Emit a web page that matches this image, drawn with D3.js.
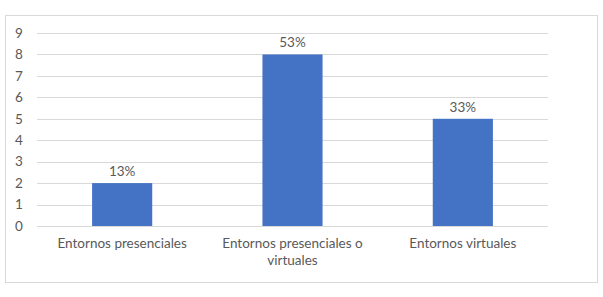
<!DOCTYPE html>
<html>
<head>
<meta charset="utf-8">
<script src="https://cdn.jsdelivr.net/npm/d3@7"></script>
<style>
  body { margin: 0; background: #fff; }
  svg text { font-family: Lato, "Open Sans", sans-serif; fill: #595959; }
</style>
</head>
<body>
<div id="chart"></div>
<script>
// chart data
var categories = ["Entornos presenciales", "Entornos presenciales o virtuales", "Entornos virtuales"];
var values = [2, 8, 5];
var pct_labels = ["13%", "53%", "33%"];
var y_ticks = [0, 1, 2, 3, 4, 5, 6, 7, 8, 9];

var W = 603, H = 297;
var margin = { top: 33, left: 37, right: 55, bottom: 71 };
var width = W - margin.left - margin.right,
  height = H - margin.top - margin.bottom;

var svg = d3.select("#chart").append("svg")
  .attr("width", W)
  .attr("height", H);

// outer border
svg.append("rect")
  .attr("x", 5.5).attr("y", 15.5)
  .attr("width", 592).attr("height", 267)
  .attr("fill", "#fff")
  .attr("stroke", "#d9d9d9");

var g = svg.append("g")
  .attr("transform", "translate(" + margin.left + "," + margin.top + ")");

var x = d3.scaleBand().domain(categories).range([0, width]).paddingInner(0.647).paddingOuter(0.3235);
var y = d3.scaleLinear().domain([0, 9]).range([height, 0]);

// gridlines
g.selectAll(".grid").data(y_ticks).enter().append("line")
  .attr("x1", 0).attr("x2", width)
  .attr("y1", function (d) { return Math.round(y(d)) + 0.5; })
  .attr("y2", function (d) { return Math.round(y(d)) + 0.5; })
  .attr("stroke", "#d9d9d9")
  .attr("stroke-width", 1);

// y tick labels
g.selectAll(".ytick").data(y_ticks).enter().append("text")
  .attr("x", -18)
  .attr("y", function (d) { return y(d); })
  .attr("dy", "0.35em")
  .attr("text-anchor", "middle")
  .style("font-size", "13.5px")
  .text(function (d) { return d; });

// bars
g.selectAll(".bar").data(values).enter().append("rect")
  .attr("x", function (d, i) { return x(categories[i]); })
  .attr("y", function (d) { return y(d); })
  .attr("width", x.bandwidth())
  .attr("height", function (d) { return height - y(d); })
  .attr("fill", "#4472c4");

// value labels
g.selectAll(".vlabel").data(values).enter().append("text")
  .attr("x", function (d, i) { return x(categories[i]) + x.bandwidth() / 2; })
  .attr("y", function (d) { return y(d) - 7; })
  .attr("text-anchor", "middle")
  .style("font-size", "13.5px")
  .text(function (d, i) { return pct_labels[i]; });

// category labels, wrapped to band step
var step = x.step();
g.selectAll(".xlabel").data(categories).enter().append("text")
  .attr("x", function (d) { return x(d) + x.bandwidth() / 2; })
  .attr("y", height + 22)
  .attr("text-anchor", "middle")
  .style("font-size", "13.5px")
  .each(function (d) {
    var text = d3.select(this), words = d.split(" "), line = [];
    var tspan = text.append("tspan").attr("x", text.attr("x")).attr("dy", 0);
    words.forEach(function (w) {
      line.push(w);
      tspan.text(line.join(" "));
      if (tspan.node().getComputedTextLength() > step - 4 && line.length > 1) {
        line.pop();
        tspan.text(line.join(" "));
        line = [w];
        tspan = text.append("tspan").attr("x", text.attr("x")).attr("dy", 17).text(w);
      }
    });
  });
</script>
</body>
</html>
